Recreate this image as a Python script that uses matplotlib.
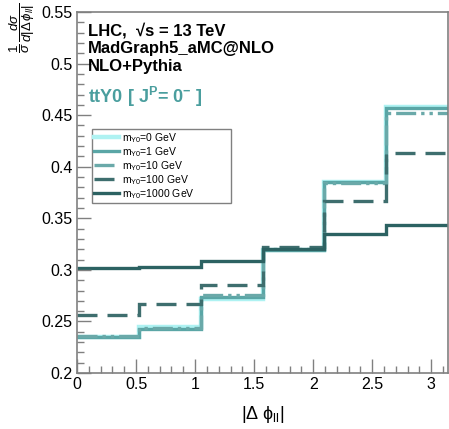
import numpy as np
import matplotlib
matplotlib.use("Agg")
import matplotlib.pyplot as plt
from matplotlib.ticker import MultipleLocator, FormatStrFormatter

plt.rcParams.update({
    "font.family": ["Liberation Sans", "DejaVu Sans"],
    "mathtext.fontset": "custom",
    "mathtext.rm": "Liberation Sans",
    "mathtext.it": "Liberation Sans:italic",
    "mathtext.bf": "Liberation Sans:bold",
})

# bin edges in |delta phi_ll| (0..pi, 6 bins)
edges = [0.0, 0.5236, 1.0472, 1.5708, 2.0944, 2.6180, 3.1416]

# normalised distributions, one per Y0 mass
m0 = [0.2345, 0.2445, 0.2720, 0.3190, 0.3848, 0.4575]
m1 = [0.2353, 0.2430, 0.2740, 0.3195, 0.3848, 0.4570]
m10 = [0.2360, 0.2440, 0.2755, 0.3200, 0.3840, 0.4520]
m100 = [0.2563, 0.2673, 0.2850, 0.3217, 0.3663, 0.4133]
m1000 = [0.3017, 0.3030, 0.3087, 0.3200, 0.3350, 0.3437]

fig = plt.figure(figsize=(4.49, 4.29), dpi=100)
ax = fig.add_axes([0.1715, 0.1305, 0.8263, 0.8415])

lab = r"m$_{\mathregular{Y0}}$=%s GeV"
ax.stairs(m0, edges, baseline=None, color="#aef2f2", lw=3.2, label=lab % "0")
ax.stairs(m1, edges, baseline=None, color="#5aa6a6", lw=2.4, label=lab % "1")
ax.stairs(m10, edges, baseline=None, color="#6aa9a9", lw=2.4,
          ls=(0, (6, 1.5, 1, 1.5, 1, 1.5)), label=lab % "10")
ax.stairs(m100, edges, baseline=None, color="#3e6e6e", lw=2.4, ls=(0, (6, 3)),
          label=lab % "100")
ax.stairs(m1000, edges, baseline=None, color="#2c6262", lw=2.4, label=lab % "1000")

ax.set_xlim(0, np.pi)
ax.set_ylim(0.2, 0.55)

for s in ax.spines.values():
    s.set_color("#808080")
    s.set_linewidth(1.2)

ax.xaxis.set_major_locator(MultipleLocator(0.5))
ax.xaxis.set_minor_locator(MultipleLocator(0.1))
ax.yaxis.set_major_locator(MultipleLocator(0.05))
ax.yaxis.set_minor_locator(MultipleLocator(0.01))
ax.xaxis.set_major_formatter(FormatStrFormatter("%g"))
ax.yaxis.set_major_formatter(FormatStrFormatter("%g"))
ax.tick_params(which="both", direction="in", color="#808080", width=1.0,
               labelsize=11.5, top=False, right=False)
ax.tick_params(which="major", length=10, pad=3)
ax.tick_params(which="minor", length=5)

fig.text(0.05, 0.993, r"$\dfrac{1}{\sigma}\,\dfrac{d\sigma}{d|\Delta\,\phi_{ll}|}$",
         rotation=90, ha="center", va="top", fontsize=9.5)
fig.text(0.585, 0.01, r"$\mathregular{|\Delta\ \phi_{ll}|}$", ha="center", va="bottom",
         fontsize=13)

ax.text(0.03, 0.95, "LHC,  √s = 13 TeV", transform=ax.transAxes,
        fontsize=12, fontweight="bold", va="center")
ax.text(0.03, 0.90, "MadGraph5_aMC@NLO", transform=ax.transAxes,
        fontsize=12, fontweight="bold", va="center")
ax.text(0.03, 0.848, "NLO+Pythia", transform=ax.transAxes,
        fontsize=12, fontweight="bold", va="center")
ax.text(0.03, 0.765, r"ttY0 [ J$^{\mathbf{P}}$= 0$^{\mathbf{-}}$ ]", transform=ax.transAxes,
        fontsize=13, fontweight="bold", va="center", color="#4a9e9e")

leg = ax.legend(loc="upper left", bbox_to_anchor=(0.04, 0.482, 0.375, 0.194),
                mode="expand", fontsize=7.5,
                frameon=True, fancybox=False, edgecolor="#808080", framealpha=1,
                handlelength=2.4, labelspacing=0.02, borderpad=0.2, handletextpad=0.3,
                borderaxespad=0)
leg.get_frame().set_linewidth(1.0)

fig.savefig("out.png", dpi=100)
